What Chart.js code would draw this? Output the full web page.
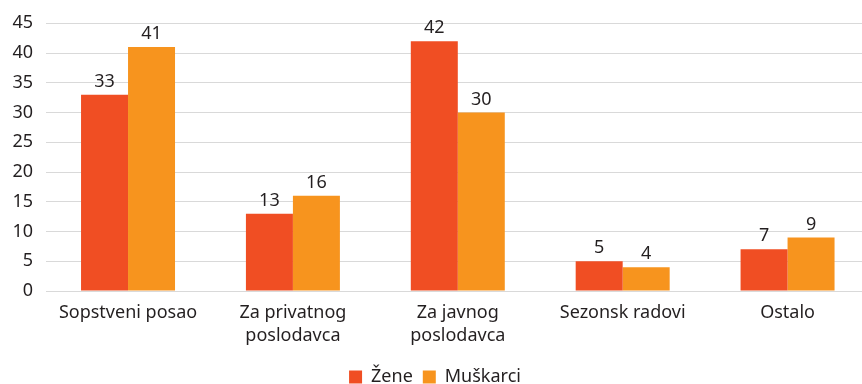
<!DOCTYPE html>
<html>
<head>
<meta charset="utf-8">
<script src="https://cdn.jsdelivr.net/npm/chart.js@4/dist/chart.umd.min.js"></script>
<style>
  html, body { margin: 0; padding: 0; background: #fff; overflow: hidden; }
  #wrap { width: 870px; height: 396px; }
</style>
</head>
<body>
<div id="wrap"><canvas id="chart"></canvas></div>
<script>
// Categories and values
const categories = [
    "Sopstveni posao",
    ["Za privatnog", "poslodavca"],
    ["Za javnog", "poslodavca"],
    "Sezonsk radovi",
    "Ostalo"
];
const zene = [33, 13, 42, 5, 7];
const muskarci = [41, 16, 30, 4, 9];
const yTicks = [0, 5, 10, 15, 20, 25, 30, 35, 40, 45];

const fontFamily = "'Noto Sans', 'Open Sans', sans-serif";
const textColor = "#231f20";

// Draw value labels above each bar
const valueLabels = {
    id: "valueLabels",
    afterDatasetsDraw(chart) {
        const ctx = chart.ctx;
        ctx.save();
        ctx.font = "18px " + fontFamily;
        ctx.fillStyle = textColor;
        ctx.textAlign = "center";
        ctx.textBaseline = "bottom";
        chart.data.datasets.forEach((ds, i) => {
            chart.getDatasetMeta(i).data.forEach((bar, j) => {
                ctx.fillText(ds.data[j], bar.x, bar.y - 4);
            });
        });
        ctx.restore();
    }
};

const ctx = document.getElementById("chart").getContext("2d");
new Chart(ctx, {
    type: "bar",
    data: {
        labels: categories,
        datasets: [
            { label: "Žene", data: zene, backgroundColor: "#f04e23" },
            { label: "Muškarci", data: muskarci, backgroundColor: "#f7941e" }
        ]
    },
    options: {
        responsive: true,
        maintainAspectRatio: false,
        animation: false,
        layout: { padding: { top: 20, left: 0, right: 0, bottom: 0 } },
        datasets: {
            bar: { barPercentage: 1, categoryPercentage: 0.57 }
        },
        scales: {
            x: {
                grid: { display: false },
                border: { display: false },
                ticks: {
                    color: textColor,
                    font: { family: fontFamily, size: 18, lineHeight: 1.25 },
                    maxRotation: 0,
                    padding: 3
                },
                // extra room between the labels and the legend
                afterFit(axis) {
                    axis.height += 8;
                }
            },
            y: {
                min: 0,
                max: 45,
                afterBuildTicks(axis) {
                    axis.ticks = yTicks.map(v => ({ value: v }));
                },
                grid: { color: "#d9d9d9", lineWidth: 1, drawTicks: false },
                border: { display: false },
                ticks: {
                    color: textColor,
                    font: { family: fontFamily, size: 18 },
                    padding: 12.5
                }
            }
        },
        plugins: {
            legend: {
                position: "bottom",
                labels: {
                    color: textColor,
                    font: { family: fontFamily, size: 18 },
                    boxWidth: 13,
                    boxHeight: 13,
                    padding: 10
                }
            },
            tooltip: { enabled: false }
        }
    },
    plugins: [valueLabels]
});
</script>
</body>
</html>
